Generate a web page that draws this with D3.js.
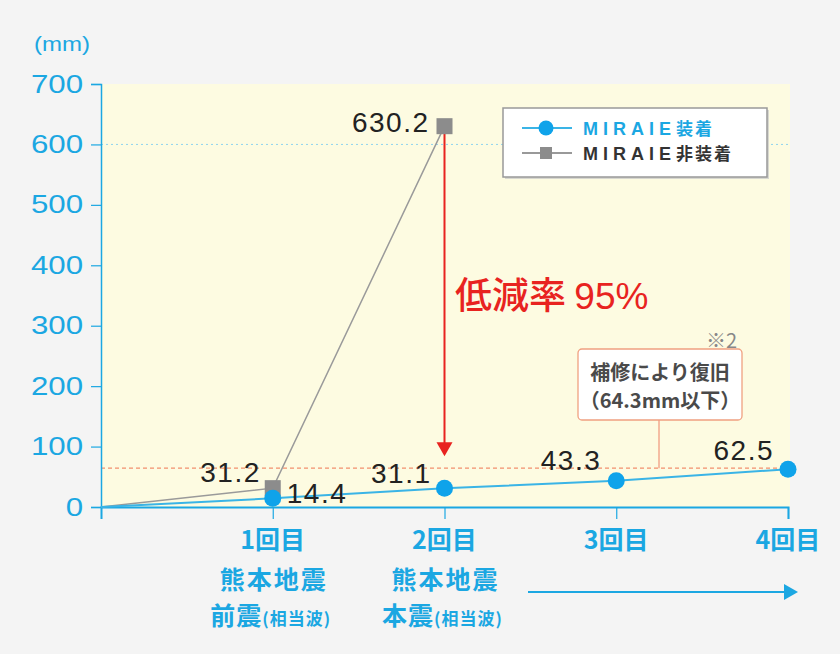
<!DOCTYPE html>
<html>
<head>
<meta charset="utf-8">
<script src="https://cdn.jsdelivr.net/npm/d3@7"></script>
<style>
  body { margin: 0; background: #f4f4f4; }
  svg { display: block; font-family: "Liberation Sans", Arial, sans-serif; }
  .jp { font-family: "Noto Sans CJK JP", sans-serif; }
</style>
</head>
<body>
<svg id="chart" width="840" height="654"></svg>
<script>
const rounds = ['1回目', '2回目', '3回目', '4回目'];
const quakeNames = ['熊本地震', '熊本地震'];
const quakeKinds = ['前震', '本震'];
const withMiraie = [0, 14.4, 31.1, 43.3, 62.5];
const withoutMiraie = [0, 31.2, 630.2];
const yTicks = [0, 100, 200, 300, 400, 500, 600, 700];
const repairLimit = 64.3;
const refLine = 600;

const blue = '#1ba7e2';
const dot = '#0fa3ea';
const grey = '#8c8c8c';
const red = '#e8231f';

const svg = d3.select('#chart');
const x = d3.scaleLinear().domain([0, 4]).range([101, 788]);
const y = d3.scaleLinear().domain([0, 700]).range([507, 84]);

// plot background
svg.append('rect')
  .attr('x', x(0)).attr('y', y(700))
  .attr('width', 790 - x(0)).attr('height', y(0) - y(700))
  .attr('fill', '#fdfbe1');

// reference lines
svg.append('line')
  .attr('x1', x(0)).attr('x2', 790)
  .attr('y1', y(refLine)).attr('y2', y(refLine))
  .attr('stroke', '#8fd3ee').attr('stroke-width', 1).attr('stroke-dasharray', '2,3');

svg.append('line')
  .attr('x1', x(0)).attr('x2', 790)
  .attr('y1', y(repairLimit)).attr('y2', y(repairLimit))
  .attr('stroke', '#f2906e').attr('stroke-width', 1.3).attr('stroke-dasharray', '4,3');

// y axis
const yAxis = svg.append('g')
  .attr('transform', `translate(${x(0)},0)`)
  .call(d3.axisLeft(y).tickValues(yTicks).tickSize(10).tickPadding(8));
yAxis.select('.domain').attr('stroke', blue).attr('stroke-width', 1.5);
yAxis.selectAll('.tick line').attr('stroke', blue).attr('stroke-width', 1.2);
yAxis.selectAll('.tick text')
  .attr('fill', blue).attr('font-size', 25)
  .attr('font-family', '"Liberation Sans", Arial, sans-serif')
  .attr('x', -18 / 1.25)
  .attr('transform', 'scale(1.25,1)');

svg.append('text')
  .attr('x', 62 / 1.2).attr('y', 51)
  .attr('transform', 'scale(1.2,1)')
  .attr('text-anchor', 'middle')
  .attr('fill', blue).attr('font-size', 20)
  .text('(mm)');

// x axis
const xAxis = svg.append('g')
  .attr('transform', `translate(0,${y(0)})`)
  .call(d3.axisBottom(x).tickValues([1, 2, 3, 4]).tickSize(12).tickFormat(''));
xAxis.select('.domain').attr('stroke', blue).attr('stroke-width', 2);
xAxis.selectAll('.tick line').attr('stroke', blue).attr('stroke-width', 1.2);

const xl = svg.append('g').attr('class', 'jp').attr('fill', blue).attr('font-weight', 'bold');
xl.selectAll('.round')
  .data(rounds)
  .join('text')
  .attr('x', (d, i) => x(i + 1))
  .attr('y', 549)
  .attr('text-anchor', 'middle')
  .attr('font-size', 25)
  .text(d => d);

xl.selectAll('.quake')
  .data(quakeNames)
  .join('text')
  .attr('x', (d, i) => x(i + 1) + 1)
  .attr('y', 589)
  .attr('text-anchor', 'middle')
  .attr('font-size', 25)
  .attr('letter-spacing', 2)
  .text(d => d);

quakeKinds.forEach((k, i) => {
  const t = xl.append('text')
    .attr('x', x(i + 1) - 2)
    .attr('y', 625)
    .attr('text-anchor', 'middle')
    .attr('font-size', 25);
  t.append('tspan').attr('letter-spacing', 1).text(k);
  t.append('tspan').attr('font-size', 17).attr('letter-spacing', 1).text('(相当波)');
});

// forward arrow under 3回目/4回目
svg.append('line')
  .attr('x1', 528).attr('x2', 786)
  .attr('y1', 592).attr('y2', 592)
  .attr('stroke', blue).attr('stroke-width', 2);
svg.append('path')
  .attr('d', 'M784,584 L798,592 L784,600 Z')
  .attr('fill', blue);

// lines
const line = d3.line().x((d, i) => x(i)).y(d => y(d));

svg.append('path')
  .datum(withoutMiraie)
  .attr('d', line)
  .attr('fill', 'none').attr('stroke', '#9a9a9a').attr('stroke-width', 1.5);

svg.append('path')
  .datum(withMiraie)
  .attr('d', line)
  .attr('fill', 'none').attr('stroke', '#3ab4e6').attr('stroke-width', 2);

// reduction arrow
svg.append('line')
  .attr('x1', x(2)).attr('x2', x(2))
  .attr('y1', y(withoutMiraie[2]) + 6).attr('y2', y(repairLimit) - 24)
  .attr('stroke', red).attr('stroke-width', 2);
svg.append('path')
  .attr('d', `M${x(2) - 8},${y(repairLimit) - 26} L${x(2) + 8},${y(repairLimit) - 26} L${x(2)},${y(repairLimit) - 12} Z`)
  .attr('fill', red);

const rt = svg.append('text')
  .attr('x', 455).attr('y', 309)
  .attr('fill', red).attr('font-size', 37);
rt.append('tspan').attr('class', 'jp').attr('font-weight', 500).text('低減率 ');
rt.append('tspan').text('95%');

// markers
svg.selectAll('.sq')
  .data(withoutMiraie.slice(1))
  .join('rect')
  .attr('x', (d, i) => x(i + 1) - 8)
  .attr('y', d => y(d) - 8)
  .attr('width', 16).attr('height', 16)
  .attr('fill', grey);

svg.selectAll('.dot')
  .data(withMiraie.slice(1))
  .join('circle')
  .attr('cx', (d, i) => x(i + 1))
  .attr('cy', d => y(d))
  .attr('r', 8.5)
  .attr('fill', dot);

// value labels
const labelFmt = d3.format('.1f');
const greyOff = [[-12, -6, 'end'], [-15, 6, 'end']];
const blueOff = [[14, 5, 'start'], [-13, -5, 'end'], [-15, -11, 'end'], [-14, -9, 'end']];

svg.selectAll('.gl')
  .data(withoutMiraie.slice(1))
  .join('text')
  .attr('x', (d, i) => x(i + 1) + greyOff[i][0])
  .attr('y', (d, i) => y(d) + greyOff[i][1])
  .attr('text-anchor', (d, i) => greyOff[i][2])
  .attr('font-size', 28).attr('letter-spacing', 1.5).attr('fill', '#222')
  .text(labelFmt);

svg.selectAll('.bl')
  .data(withMiraie.slice(1))
  .join('text')
  .attr('x', (d, i) => x(i + 1) + blueOff[i][0])
  .attr('y', (d, i) => y(d) + blueOff[i][1])
  .attr('text-anchor', (d, i) => blueOff[i][2])
  .attr('font-size', 28).attr('letter-spacing', 1.5).attr('fill', '#222')
  .text(labelFmt);

// repair note
svg.append('line')
  .attr('x1', 659).attr('x2', 659)
  .attr('y1', 420).attr('y2', y(repairLimit))
  .attr('stroke', '#f0967a').attr('stroke-width', 1.2);
svg.append('rect')
  .attr('x', 578).attr('y', 349).attr('width', 164).attr('height', 71)
  .attr('rx', 4)
  .attr('fill', '#fff').attr('stroke', '#f0a080').attr('stroke-width', 1.3);
const note = svg.append('g').attr('class', 'jp')
  .attr('fill', '#4a4a4a').attr('font-size', 20).attr('font-weight', 'bold')
  .attr('text-anchor', 'middle');
note.append('text').attr('x', 660).attr('y', 380).text('補修により復旧');
note.append('text').attr('x', 660).attr('y', 408).text('（64.3mm以下）');
svg.append('text').attr('class', 'jp')
  .attr('x', 737).attr('y', 348).attr('text-anchor', 'end')
  .attr('fill', '#888').attr('font-size', 20).text('※2');

// legend
const lg = svg.append('g').attr('transform', 'translate(503,108)');
lg.append('rect')
  .attr('x', 2).attr('y', 2).attr('width', 264).attr('height', 69)
  .attr('fill', '#d8d8d0');
lg.append('rect')
  .attr('width', 264).attr('height', 69)
  .attr('fill', '#fff').attr('stroke', '#999').attr('stroke-width', 1.5);
const items = [
  { label: 'MIRAIE', tail: '装着', color: blue, stroke: '#3ab4e6', shape: 'circle' },
  { label: 'MIRAIE', tail: '非装着', color: '#333', stroke: '#999', shape: 'square' }
];
items.forEach((it, i) => {
  const cy = 20 + i * 25;
  lg.append('line').attr('x1', 19).attr('x2', 69).attr('y1', cy).attr('y2', cy)
    .attr('stroke', it.stroke).attr('stroke-width', 2);
  if (it.shape === 'circle') {
    lg.append('circle').attr('cx', 43).attr('cy', cy).attr('r', 7.5).attr('fill', dot);
  } else {
    lg.append('rect').attr('x', 37).attr('y', cy - 6).attr('width', 12).attr('height', 12).attr('fill', grey);
  }
  const t = lg.append('text').attr('x', 80).attr('y', cy + 7)
    .attr('fill', it.color).attr('font-size', 18).attr('font-weight', 'bold');
  t.append('tspan').attr('letter-spacing', 5).text(it.label);
  t.append('tspan').attr('class', 'jp').attr('font-size', 17).attr('letter-spacing', 2).text(it.tail);
});
</script>
</body>
</html>
